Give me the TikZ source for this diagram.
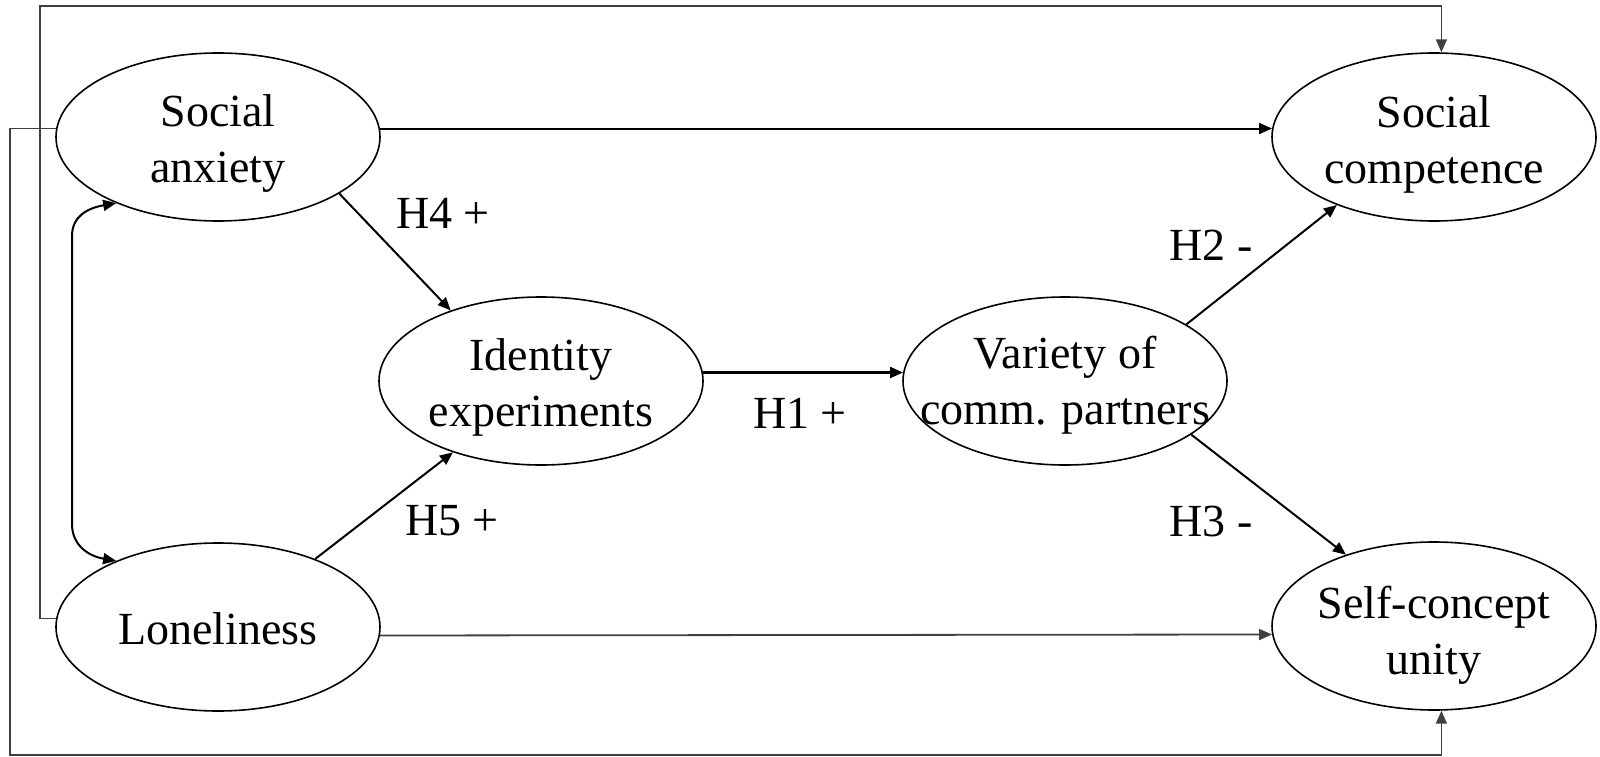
\documentclass[tikz,border=0pt]{standalone}
\usepackage{fontspec}
\setmainfont{Liberation Serif}
\usetikzlibrary{arrows.meta,shapes.geometric}
\begin{document}
\begin{tikzpicture}[x=1pt,y=-1pt,
  var/.style={ellipse, draw, line width=1.6pt, minimum width=324pt, minimum height=168pt, inner sep=0pt},
  txt/.style={font=\fontsize{46}{56}\selectfont, align=center, inner sep=0pt},
  hyp/.style={font=\fontsize{46}{56}\selectfont, inner sep=0pt},
  tip/.style={-{Triangle[length=13pt,width=11pt]}},
  arr/.style={line width=2pt, tip},
  route/.style={line width=1.8pt, draw=black!75, tip}]
\fill[white] (0,0) rectangle (1600,757);
\useasboundingbox (0,0) rectangle (1600,757);
% variables
\node[var] (sa) at (218,137) {};
\node[var] (lo) at (218,627) {};
\node[var] (ie) at (541,381) {};
\node[var] (vc) at (1065,381) {};
\node[var] (sc) at (1434,137) {};
\node[var] (su) at (1434,626) {};
% texts
\node[txt] (sa-t) at ([yshift=-7pt]sa.center) {Social\\anxiety};
\node[txt] (lo-t) at ([yshift=-2pt]lo.center) {Loneliness};
\node[txt] (ie-t) at ([yshift=-6pt]ie.center) {Identity\\experiments};
\node[txt] (vc-t) at ([yshift=-4pt]vc.center) {Variety of\\comm. partners};
\node[txt] (sc-t) at ([yshift=-7pt]sc.center) {Social\\competence};
\node[txt] (su-t) at ([yshift=-9pt]su.center) {Self-concept\\unity};
% hypothesis labels
\node[hyp] (h4) at (443,213) {H4 +};
\node[hyp] (h5) at (452,521) {H5 +};
\node[hyp] (h1) at (800,413) {H1 +};
\node[hyp] (h2) at (1211,245) {H2 -};
\node[hyp] (h3) at (1211,521) {H3 -};
% route corners
\coordinate (tl) at (40,6);
\coordinate (bl) at (10,755);
% connectors
\draw[arr] (sa.335) -- (ie.142);
\draw[arr] (lo.35) -- (ie.219);
\draw[arr, line width=2.4pt] (ie.3) -- (vc.177);
\draw[arr] (vc.25) -- (sc.215);
\draw[arr] (vc.337) -- (su.141);
\draw[arr] (sa.3) -- (sc.177);
\draw[route] (lo.357) -- (su.183);
\draw[route] (lo.177) -| (tl) -| (sc.85);
\draw[route] (sa.177) -| (bl) -| (su.275);
\draw[line width=2pt, {Triangle[length=13pt,width=11pt]}-{Triangle[length=13pt,width=11pt]}]
  (sa.213) .. controls (88,208) and (72,216) .. (72,236) -- (72,524)
  .. controls (72,545) and (88,556) .. (lo.147);
\end{tikzpicture}
\end{document}
